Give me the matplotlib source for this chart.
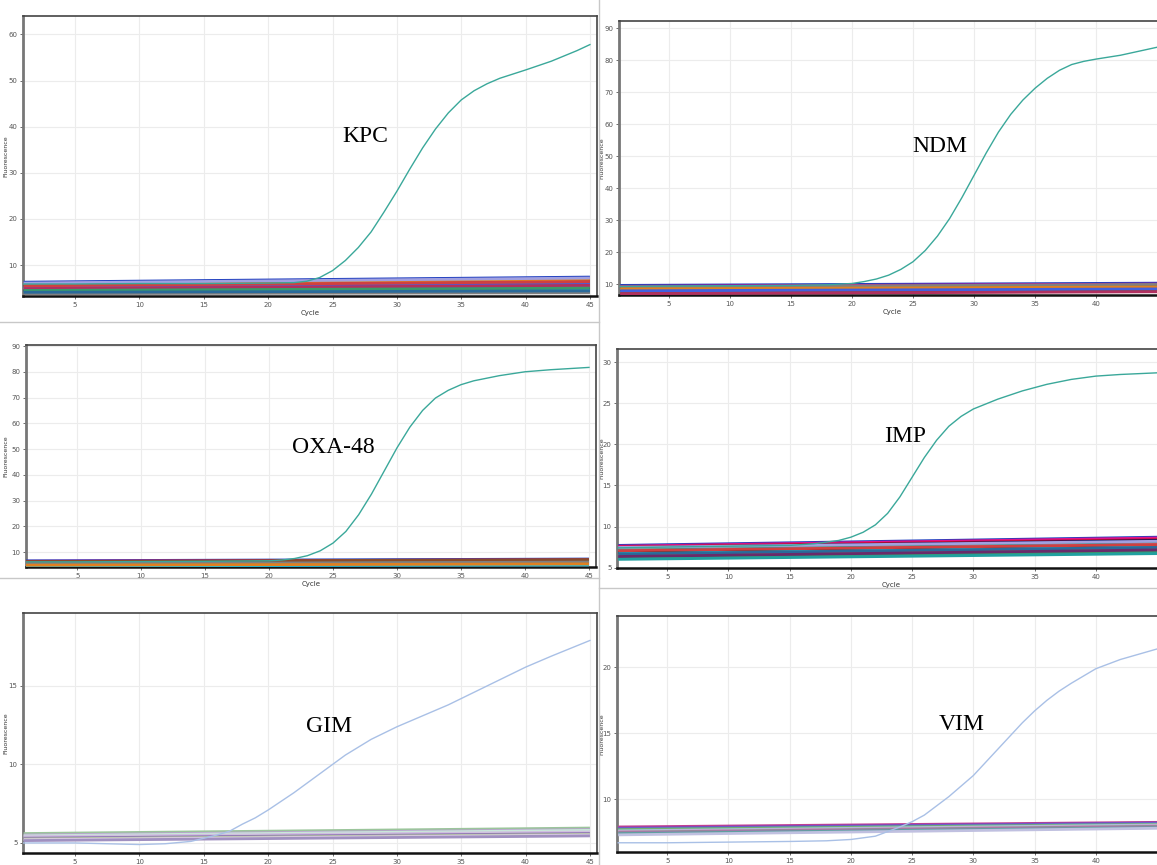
import matplotlib
matplotlib.use("Agg")
import matplotlib.pyplot as plt
from matplotlib.lines import Line2D

# ==========================================
#  Data
# ==========================================
left_ticks = [5, 10, 15, 20, 25, 30, 35, 40, 45]
right_ticks = [5, 10, 15, 20, 25, 30, 35, 40]   # 45 falls off the cropped screenshot
base_cycles = [1, 45]

# KPC
kpc_cycles = [1, 5, 10, 15, 20, 22, 23, 24, 25, 26, 27, 28, 29, 30, 31, 32, 33, 34, 35, 36, 37, 38, 40, 42, 44, 45]
kpc_signal = [5.9, 5.9, 6.0, 6.0, 6.1, 6.2, 6.5, 7.3, 8.8, 11.0, 13.8, 17.2, 21.5, 26.0, 30.8, 35.4, 39.5, 43.0,
              45.8, 47.8, 49.3, 50.5, 52.3, 54.2, 56.5, 57.8]
kpc_base_start = [6.3, 6.0, 5.8, 5.6, 5.4, 5.2, 5.0, 4.8, 4.6, 4.4, 4.2, 4.0, 3.8, 5.9, 5.3, 4.9, 4.5, 6.1, 5.5, 4.1]
kpc_base_end = [7.4, 7.0, 6.8, 6.5, 6.2, 6.0, 5.7, 5.4, 5.1, 4.8, 4.5, 4.2, 4.0, 6.9, 6.1, 5.6, 5.0, 7.2, 6.4, 4.4]

# NDM
ndm_cycles = [1, 5, 10, 15, 18, 20, 21, 22, 23, 24, 25, 26, 27, 28, 29, 30, 31, 32, 33, 34, 35, 36, 37, 38, 39, 40, 42, 45]
ndm_signal = [9.3, 9.4, 9.5, 9.6, 9.8, 10.2, 10.8, 11.6, 12.8, 14.6, 17.0, 20.5, 25.0, 30.5, 37.0, 44.0, 51.0,
              57.5, 63.0, 67.5, 71.2, 74.3, 76.8, 78.6, 79.6, 80.3, 81.5, 84.0]
ndm_base_start = [9.6, 9.3, 9.0, 8.8, 8.6, 8.4, 8.2, 8.0, 7.8, 7.6, 7.4, 7.2, 9.1, 8.5, 7.9, 7.0]
ndm_base_end = [10.3, 10.0, 9.7, 9.4, 9.2, 9.0, 8.8, 8.6, 8.4, 8.2, 8.0, 7.8, 9.9, 9.1, 8.5, 7.6]

# OXA-48
oxa_cycles = [1, 5, 10, 15, 20, 21, 22, 23, 24, 25, 26, 27, 28, 29, 30, 31, 32, 33, 34, 35, 36, 38, 40, 42, 45]
oxa_signal = [6.2, 6.2, 6.3, 6.4, 6.6, 6.9, 7.5, 8.6, 10.5, 13.5, 18.0, 24.5, 32.5, 41.5, 50.5, 58.5, 65.0,
              69.8, 72.8, 75.0, 76.5, 78.5, 80.0, 80.8, 81.7]
oxa_base_start = [6.6, 6.4, 6.2, 6.0, 5.8, 5.6, 5.4, 5.2, 5.0, 4.8, 4.6, 6.3, 5.5, 4.9]
oxa_base_end = [7.3, 7.0, 6.8, 6.6, 6.4, 6.2, 6.0, 5.8, 5.6, 5.3, 5.0, 7.1, 6.1, 5.4]

# IMP
imp_cycles = [1, 5, 10, 15, 17, 19, 20, 21, 22, 23, 24, 25, 26, 27, 28, 29, 30, 32, 34, 36, 38, 40, 42, 45]
imp_signal = [7.4, 7.5, 7.6, 7.7, 7.9, 8.3, 8.7, 9.3, 10.2, 11.6, 13.6, 16.0, 18.4, 20.5, 22.2, 23.4, 24.3,
              25.5, 26.5, 27.3, 27.9, 28.3, 28.5, 28.7]
imp_base_start = [7.7, 7.6, 7.5, 7.4, 7.3, 7.2, 7.1, 7.0, 6.9, 6.8, 6.7, 6.6, 6.5, 6.4, 6.3, 6.2, 6.1,
                  7.45, 7.05, 6.65, 6.35, 6.0]
imp_base_end = [8.7, 8.6, 8.4, 8.3, 8.1, 8.0, 7.9, 7.8, 7.7, 7.6, 7.5, 7.4, 7.3, 7.2, 7.1, 7.0, 6.9,
                8.2, 7.8, 7.45, 7.15, 6.7]

# GIM
gim_cycles = [1, 5, 10, 12, 14, 15, 16, 17, 18, 19, 20, 22, 24, 26, 28, 30, 32, 34, 36, 38, 40, 42, 45]
gim_signal = [5.0, 5.0, 4.9, 4.95, 5.1, 5.3, 5.5, 5.75, 6.2, 6.6, 7.1, 8.2, 9.4, 10.6, 11.6, 12.4, 13.1,
              13.8, 14.6, 15.4, 16.2, 16.9, 17.9]
gim_base_start = [5.6, 5.5, 5.45, 5.4, 5.3, 5.25, 5.2, 5.15]
gim_base_end = [5.95, 5.85, 5.8, 5.7, 5.6, 5.55, 5.5, 5.45]

# VIM
vim_cycles = [1, 5, 10, 15, 18, 20, 22, 24, 25, 26, 27, 28, 29, 30, 31, 32, 33, 34, 35, 36, 37, 38, 40, 42, 45]
vim_signal = [6.7, 6.7, 6.75, 6.8, 6.85, 6.95, 7.2, 7.9, 8.3, 8.8, 9.5, 10.2, 11.0, 11.8, 12.8, 13.8, 14.8,
              15.8, 16.7, 17.5, 18.2, 18.8, 19.9, 20.6, 21.4]
vim_base_start = [7.9, 7.8, 7.75, 7.7, 7.6, 7.55, 7.5, 7.45, 7.4, 7.3]
vim_base_end = [8.25, 8.2, 8.15, 8.1, 8.05, 8.0, 7.95, 7.9, 7.85, 7.8]

# ==========================================
#  Colours
# ==========================================
bundle_colors = ['#1f3fbf', '#e0118c', '#c0102a', '#101060', '#2a8a2a', '#8a8a20', '#1a9a9a', '#f06aa0',
                 '#7a2ab0', '#000000', '#20c0e0', '#8a4a2a', '#808080', '#e08020', '#4060e0', '#b03060',
                 '#3a9a6a', '#a0a0e0', '#d04040', '#2a6a9a', '#6a2a6a', '#20a0a0']
gim_colors = ['#9bc59b', '#b9a0d0', '#c8e8d8', '#d0c0e0', '#8a70b0', '#b0c0a0', '#e0d0e8', '#a090c0']
vim_colors = ['#c04090', '#8040c0', '#6070d0', '#70b070', '#a0c8e0', '#d0a0d0', '#909090', '#b070b0',
              '#60a0a0', '#c0c0e0']
teal = '#3aa89a'
light_blue = '#a9c0e6'

W, H = 1157, 865
fig = plt.figure(figsize=(W / 100, H / 100), dpi=100)


def px_axes(left, top, right, bottom):
    return fig.add_axes([left / W, 1 - bottom / H, (right - left) / W, (bottom - top) / H])


def draw_panel(box, xlim, ylim, xticks, yticks, cycles, signal, sig_color, b_start, b_end, b_colors,
               label, label_xy, ylabel_x, show_cycle=True):
    ax = px_axes(*box)
    for i, (s, e) in enumerate(zip(b_start, b_end)):
        ax.plot(base_cycles, [s, e], color=b_colors[i % len(b_colors)], lw=2.0, solid_capstyle='butt', zorder=3)
    ax.plot(cycles, signal, color=sig_color, lw=1.0, zorder=4)
    ax.set_xlim(*xlim)
    ax.set_ylim(*ylim)
    ax.set_xticks(xticks)
    ax.set_yticks(yticks)
    ax.grid(True, color='#ececec', lw=0.8)
    ax.set_axisbelow(True)
    ax.tick_params(labelsize=5, colors='#555555', length=2, width=0.6, pad=2)
    for side in ['top', 'right']:
        ax.spines[side].set_color('#444444')
        ax.spines[side].set_linewidth(1.2)
    ax.spines['left'].set_color('#777777')
    ax.spines['left'].set_linewidth(2.0)
    ax.spines['bottom'].set_color('#111111')
    ax.spines['bottom'].set_linewidth(1.8)
    if show_cycle:
        ax.set_xlabel("Cycle", fontsize=5, color='#333333', labelpad=2)
    ax.set_ylabel("Fluorescence", fontsize=4.5, color='#333333')
    ax.yaxis.set_label_coords((ylabel_x - box[0]) / (box[2] - box[0]), 0.5)
    fig.text(label_xy[0] / W, 1 - label_xy[1] / H, label, fontsize=17, family='Liberation Serif',
             ha='center', va='center', zorder=10)
    return ax


draw_panel((23, 16, 597, 296), (0.95, 45.55), (3.3, 64), left_ticks, [10, 20, 30, 40, 50, 60],
           kpc_cycles, kpc_signal, teal, kpc_base_start, kpc_base_end, bundle_colors, "KPC", (365, 136), 8)
draw_panel((619, 21, 1165, 295), (0.9, 45.65), (6.6, 92.2), right_ticks, [10, 20, 30, 40, 50, 60, 70, 80, 90],
           ndm_cycles, ndm_signal, teal, ndm_base_start, ndm_base_end, bundle_colors, "NDM", (940, 147), 604)
draw_panel((26, 345, 596, 567), (1.0, 45.55), (4.2, 90.4), left_ticks, [10, 20, 30, 40, 50, 60, 70, 80, 90],
           oxa_cycles, oxa_signal, teal, oxa_base_start, oxa_base_end, bundle_colors, "OXA-48", (333, 448), 8)
draw_panel((617, 349, 1165, 568), (0.9, 45.65), (4.95, 31.6), right_ticks, [5, 10, 15, 20, 25, 30],
           imp_cycles, imp_signal, teal, imp_base_start, imp_base_end, bundle_colors, "IMP", (905, 437), 604)
draw_panel((23, 613, 597, 853), (0.95, 45.55), (4.36, 19.65), left_ticks, [5, 10, 15],
           gim_cycles, gim_signal, light_blue, gim_base_start, gim_base_end, gim_colors, "GIM", (329, 727), 8,
           show_cycle=False)
draw_panel((617, 616, 1165, 852), (0.9, 45.65), (6.0, 23.9), right_ticks, [10, 15, 20],
           vim_cycles, vim_signal, light_blue, vim_base_start, vim_base_end, vim_colors, "VIM", (962, 725), 604,
           show_cycle=False)

# screenshot borders between the panels
sep = dict(color='#c8c8c8', lw=1.0, transform=fig.transFigure)
fig.add_artist(Line2D([599 / W, 599 / W], [0, 1], **sep))
fig.add_artist(Line2D([0, 599 / W], [1 - 322 / H, 1 - 322 / H], **sep))
fig.add_artist(Line2D([0, 599 / W], [1 - 578 / H, 1 - 578 / H], **sep))
fig.add_artist(Line2D([599 / W, 1], [1 - 588 / H, 1 - 588 / H], **sep))

fig.savefig("out.png", dpi=100)
